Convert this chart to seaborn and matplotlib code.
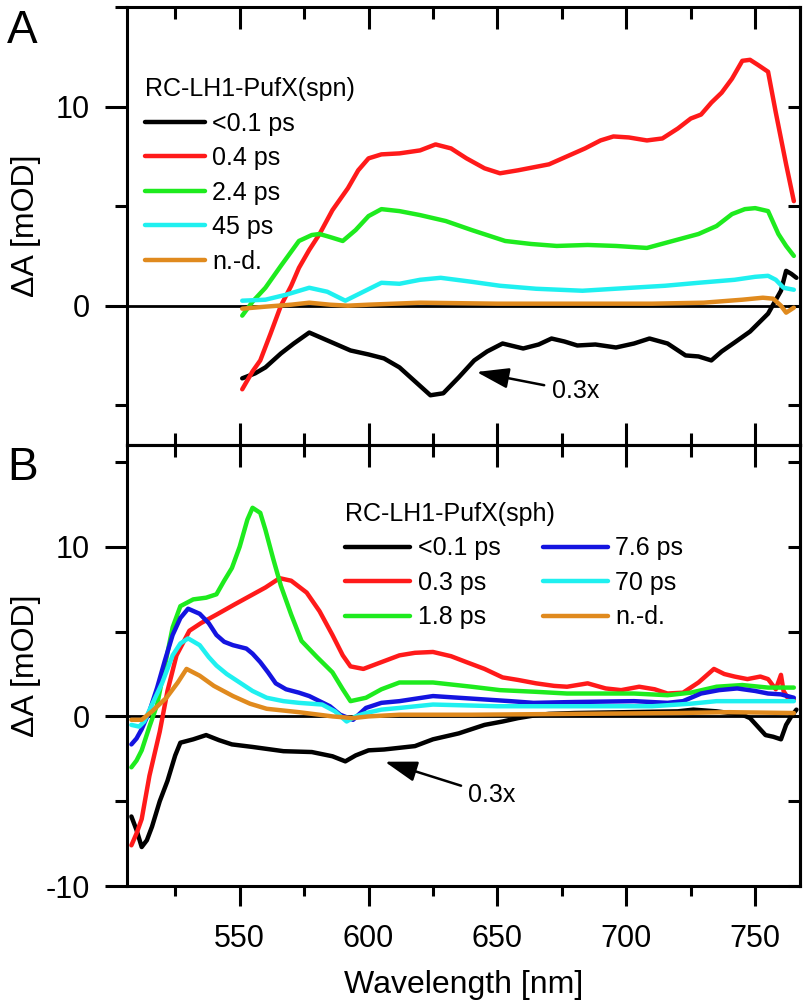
#!/usr/bin/env python3

import matplotlib
matplotlib.use('Agg')
import matplotlib.pyplot as plt     # plotting
import seaborn as sns               # line plots
from matplotlib.ticker import MultipleLocator

# ---------------- panel A : RC-LH1-PufX(spn) ----------------
a_black_wl = [551, 556, 560, 566, 571, 577, 585, 593, 600, 606, 612, 618, 624, 629, 635,
              641, 646, 652, 660, 666, 671, 676, 681, 688, 696, 703, 709, 716, 723, 728,
              733, 737, 742, 748, 755, 760, 762, 764, 766]
a_black = [-3.65, -3.4, -3.1, -2.4, -1.9, -1.35, -1.8, -2.25, -2.45, -2.65, -3.1, -3.8, -4.5,
           -4.4, -3.6, -2.75, -2.3, -1.9, -2.15, -1.95, -1.65, -1.8, -2.0, -1.95, -2.1, -1.9,
           -1.65, -1.9, -2.5, -2.55, -2.75, -2.3, -1.85, -1.3, -0.4, 0.75, 1.75, 1.6, 1.4]

a_red_wl = [551, 555, 558, 562, 566, 570, 573, 577, 581, 586, 592, 596, 600, 605, 612, 620,
            626, 632, 638, 645, 651, 658, 664, 670, 677, 684, 690, 695, 701, 708, 714, 720,
            725, 729, 733, 737, 741, 745, 748, 751, 755, 758, 762, 765]
a_red = [-4.2, -3.3, -2.75, -1.4, 0.0, 1.0, 1.9, 2.8, 3.6, 4.8, 5.9, 6.8, 7.4, 7.6, 7.65, 7.8,
         8.1, 7.9, 7.4, 6.9, 6.65, 6.8, 6.95, 7.1, 7.5, 7.9, 8.3, 8.5, 8.45, 8.3, 8.4, 8.9,
         9.4, 9.6, 10.2, 10.7, 11.4, 12.3, 12.35, 12.1, 11.75, 9.7, 7.1, 5.25]

a_green_wl = [551, 555, 560, 566, 573, 578, 581, 585, 590, 595, 600, 605, 612, 620, 630, 640,
              653, 663, 673, 685, 696, 708, 718, 728, 735, 741, 746, 750, 755, 759, 762, 765]
a_green = [-0.5, 0.2, 0.9, 2.0, 3.25, 3.55, 3.6, 3.45, 3.25, 3.8, 4.5, 4.85, 4.75, 4.55, 4.25,
           3.8, 3.25, 3.1, 3.0, 3.05, 3.0, 2.9, 3.25, 3.6, 4.0, 4.6, 4.85, 4.9, 4.75, 3.6, 3.0, 2.5]

a_cyan_wl = [551, 560, 568, 577, 584, 591, 598, 605, 612, 620, 628, 640, 651, 665, 683, 702,
             715, 728, 742, 750, 755, 758, 761, 765]
a_cyan = [0.25, 0.3, 0.55, 0.9, 0.7, 0.25, 0.7, 1.15, 1.1, 1.3, 1.4, 1.2, 1.0, 0.85, 0.75, 0.9,
          1.0, 1.15, 1.3, 1.45, 1.5, 1.3, 0.9, 0.8]

a_orange_wl = [551, 560, 570, 577, 585, 592, 600, 620, 650, 680, 710, 730, 745, 753, 757, 760, 762, 765]
a_orange = [-0.15, -0.05, 0.05, 0.15, 0.05, 0.0, 0.05, 0.15, 0.1, 0.1, 0.1, 0.15, 0.3, 0.4,
            0.35, 0.0, -0.35, -0.1]

a_labels = ['<0.1 ps', '0.4 ps', '2.4 ps', '45 ps', 'n.-d.']

# ---------------- panel B : RC-LH1-PufX(sph) ----------------
b_black_wl = [508, 510, 512, 514, 516, 519, 522, 525, 527, 532, 537, 542, 547, 555, 567, 578,
              586, 591, 595, 600, 606, 612, 618, 625, 635, 645, 652, 658, 664, 670, 680, 700,
              720, 726, 735, 745, 748, 751, 754, 757, 760, 762, 764, 766]
b_black = [-5.9, -6.7, -7.7, -7.3, -6.5, -5.0, -3.8, -2.3, -1.55, -1.35, -1.1, -1.4, -1.65, -1.8,
           -2.05, -2.1, -2.35, -2.65, -2.3, -2.0, -1.95, -1.85, -1.75, -1.35, -1.0, -0.5, -0.3,
           -0.1, 0.05, 0.15, 0.2, 0.25, 0.3, 0.4, 0.3, 0.1, -0.1, -0.6, -1.1, -1.2, -1.35, -0.5,
           0.0, 0.4]

b_red_wl = [508, 510, 512, 515, 519, 522, 525.5, 530.5, 535, 541, 548, 554, 560, 565.5, 570, 576,
            581, 586, 590, 593, 598, 605, 612, 618, 625, 632, 638, 645, 652, 658, 665, 672, 677,
            685, 692, 698, 705, 711, 716, 722, 728, 734, 738, 742, 747, 752, 755, 758, 760, 761,
            763, 765]
b_red = [-7.6, -6.9, -6.05, -3.5, -0.9, 1.5, 3.6, 5.05, 5.5, 6.0, 6.6, 7.1, 7.6, 8.15, 8.0, 7.3,
         6.2, 4.8, 3.6, 2.95, 2.8, 3.2, 3.6, 3.75, 3.8, 3.55, 3.2, 2.8, 2.3, 2.15, 1.95, 1.8, 1.75,
         1.95, 1.65, 1.55, 1.75, 1.6, 1.35, 1.4, 2.0, 2.8, 2.5, 2.35, 2.2, 2.35, 2.2, 1.6, 2.45,
         1.5, 1.0, 1.0]

b_green_wl = [508, 510, 512, 515, 518, 521, 524, 527, 532, 537, 541, 544, 547, 550, 553, 555,
              558, 560, 563, 566, 570, 574, 580, 586, 590, 593, 599, 605, 612, 625, 640, 651,
              665, 677, 690, 703, 716, 725, 735, 745, 755, 765]
b_green = [-3.0, -2.6, -2.0, -0.6, 0.7, 3.0, 5.25, 6.5, 6.9, 7.0, 7.2, 8.0, 8.75, 10.0, 11.6,
           12.3, 12.0, 11.0, 9.3, 7.7, 6.0, 4.45, 3.5, 2.6, 1.6, 0.9, 1.1, 1.6, 2.0, 2.0, 1.75,
           1.55, 1.45, 1.35, 1.35, 1.35, 1.25, 1.4, 1.75, 1.85, 1.7, 1.7]

b_blue_wl = [508, 510, 512, 515, 518, 521, 524, 527, 530, 534.5, 538, 541, 544, 547.4, 550, 552.6,
             555, 558, 561, 564, 568, 573, 577, 581, 585, 589, 594, 599, 605, 612, 625, 640, 655,
             664, 680, 703, 716, 722, 729, 736, 743, 750, 755, 760, 765]
b_blue = [-1.65, -1.3, -0.75, 0.3, 1.7, 3.3, 4.8, 5.8, 6.35, 6.05, 5.5, 4.8, 4.4, 4.2, 4.1, 4.0,
          3.7, 3.2, 2.6, 1.95, 1.6, 1.4, 1.2, 0.9, 0.6, 0.1, -0.2, 0.5, 0.8, 0.9, 1.2, 1.05, 0.9,
          0.8, 0.85, 0.9, 0.8, 0.9, 1.35, 1.55, 1.65, 1.5, 1.35, 1.3, 1.1]

b_cyan_wl = [508, 511, 513, 516, 520, 524, 527, 530, 534.5, 538, 541, 545, 550, 555, 560.5, 567,
             573, 582, 587, 591.5, 595, 599, 605, 612, 625, 650, 680, 710, 725, 735, 742, 755, 765]
b_cyan = [-0.5, -0.6, -0.3, 0.7, 2.0, 3.6, 4.3, 4.6, 4.2, 3.5, 3.0, 2.5, 2.0, 1.5, 1.1, 0.9, 0.8,
          0.7, 0.3, -0.3, 0.0, 0.2, 0.4, 0.5, 0.7, 0.6, 0.6, 0.6, 0.75, 0.9, 0.9, 0.9, 0.9]

b_orange_wl = [508, 512, 516, 521.6, 526, 529.4, 534.5, 540, 547.4, 554, 560.5, 573, 586, 594,
               600, 612, 640, 680, 720, 740, 765]
b_orange = [-0.2, -0.2, 0.3, 1.1, 2.0, 2.8, 2.4, 1.8, 1.2, 0.75, 0.45, 0.25, 0.0, -0.1, 0.0,
            0.1, 0.1, 0.15, 0.2, 0.25, 0.2]

b_labels = ['<0.1 ps', '0.3 ps', '1.8 ps', '7.6 ps', '70 ps', 'n.-d.']

BLACK, RED, GREEN, BLUE, CYAN, ORANGE = 'black', '#ff1a1a', '#1eeb1e', '#1414e0', '#1ff0f0', '#e08a1e'

sns.set_style('ticks')
plt.rcParams['font.family'] = ['Liberation Sans', 'DejaVu Sans']
plt.rcParams['axes.unicode_minus'] = False
for key in ['text.color', 'axes.edgecolor', 'axes.labelcolor', 'xtick.color', 'ytick.color']:
    plt.rcParams[key] = 'black'
plt.rcParams['axes.linewidth'] = 2.2


def style_y(ax, ylim):
    ax.set_ylim(*ylim)
    ax.yaxis.set_major_locator(MultipleLocator(10))
    ax.yaxis.set_minor_locator(MultipleLocator(5))
    ax.tick_params(axis='y', which='both', direction='out', left=True, right=False,
                   width=2.2, labelsize=22, pad=11)
    ax.tick_params(axis='y', which='major', length=16)
    ax.tick_params(axis='y', which='minor', length=8.5)
    sec = ax.secondary_yaxis('right')
    sec.yaxis.set_major_locator(MultipleLocator(10))
    sec.yaxis.set_minor_locator(MultipleLocator(5))
    sec.tick_params(which='both', direction='in', length=8.5, width=2.2, labelright=False)
    sec.spines['right'].set_linewidth(2.2)
    ax.set_ylabel('\u0394A [mOD]', fontsize=23)
    ax.yaxis.set_label_coords(-0.128, 0.5)
    ax.axhline(0, color='black', lw=2.0, zorder=1.5)


def draw(ax, series):
    for wl, vals, lab, col in series:
        sns.lineplot(x=wl, y=vals, color=col, lw=3.2, label=lab, ax=ax)


ARROW = dict(arrowstyle='-|>,head_length=1.1,head_width=0.35', color='black',
             lw=1.8, shrinkA=3, shrinkB=0)

fig = plt.figure(figsize=(8.1, 10.08), dpi=100)
ax_a = fig.add_axes([0.1568, 0.5585, 0.8309, 0.4345])
ax_b = fig.add_axes([0.1568, 0.1210, 0.8309, 0.4375])

# ---- panel A
draw(ax_a, [(a_black_wl, a_black, a_labels[0], BLACK),
            (a_red_wl, a_red, a_labels[1], RED),
            (a_green_wl, a_green, a_labels[2], GREEN),
            (a_cyan_wl, a_cyan, a_labels[3], CYAN),
            (a_orange_wl, a_orange, a_labels[4], ORANGE)])
ax_a.set_xlim(506.3, 767.4)
ax_a.xaxis.set_major_locator(MultipleLocator(50))
ax_a.xaxis.set_minor_locator(MultipleLocator(25))
ax_a.tick_params(axis='x', which='both', direction='in', top=True, bottom=True,
                 labelbottom=False, width=2.2)
ax_a.tick_params(axis='x', which='major', length=16)
ax_a.tick_params(axis='x', which='minor', length=8.5)
ax_a.set_xlabel('')
style_y(ax_a, (-7, 15))
h, l = ax_a.get_legend_handles_labels()
ax_a.legend(h, l, title='RC-LH1-PufX(spn)', loc='upper left', bbox_to_anchor=(0.0267, 0.840),
            frameon=False, fontsize=18, title_fontsize=18, alignment='left', borderpad=0,
            borderaxespad=0, handlelength=2.4, handletextpad=0.3, labelspacing=0.42)
ax_a.annotate('0.3x', xy=(641.9, -3.33), xytext=(671, -4.3), fontsize=18, ha='left', va='center',
              arrowprops=ARROW)

# ---- panel B
draw(ax_b, [(b_black_wl, b_black, b_labels[0], BLACK),
            (b_red_wl, b_red, b_labels[1], RED),
            (b_green_wl, b_green, b_labels[2], GREEN),
            (b_blue_wl, b_blue, b_labels[3], BLUE),
            (b_cyan_wl, b_cyan, b_labels[4], CYAN),
            (b_orange_wl, b_orange, b_labels[5], ORANGE)])
ax_b.set_xlim(506.3, 767.4)
ax_b.xaxis.set_major_locator(MultipleLocator(50))
ax_b.xaxis.set_minor_locator(MultipleLocator(25))
ax_b.tick_params(axis='x', which='both', direction='out', top=False, bottom=True,
                 width=2.2, labelsize=22, pad=13)
ax_b.tick_params(axis='x', which='major', length=14.5)
ax_b.tick_params(axis='x', which='minor', length=7)
sec_top = ax_b.secondary_xaxis('top')
sec_top.xaxis.set_major_locator(MultipleLocator(50))
sec_top.xaxis.set_minor_locator(MultipleLocator(25))
sec_top.tick_params(which='both', direction='in', width=2.2, labeltop=False)
sec_top.tick_params(which='major', length=16)
sec_top.tick_params(which='minor', length=8.5)
sec_top.spines['top'].set_linewidth(2.2)
ax_b.set_xlabel('Wavelength [nm]', fontsize=23)
ax_b.xaxis.set_label_coords(0.5, -0.19)
style_y(ax_b, (-10, 16))
h, l = ax_b.get_legend_handles_labels()
ax_b.legend(h, l, title='RC-LH1-PufX(sph)', loc='upper left', bbox_to_anchor=(0.324, 0.871),
            ncol=2, frameon=False, fontsize=18, title_fontsize=18, alignment='left', borderpad=0,
            borderaxespad=0, handlelength=2.6, handletextpad=0.3, labelspacing=0.42,
            columnspacing=1.7)
ax_b.annotate('0.3x', xy=(606.3, -2.67), xytext=(638.7, -4.66), fontsize=18, ha='left', va='center',
              arrowprops=ARROW)

fig.text(7 / 810, 1 - 9 / 1008, 'A', fontsize=33, ha='left', va='top')
fig.text(7 / 810, 1 - 446 / 1008, 'B', fontsize=33, ha='left', va='top')

fig.savefig('out.png', dpi=100)
